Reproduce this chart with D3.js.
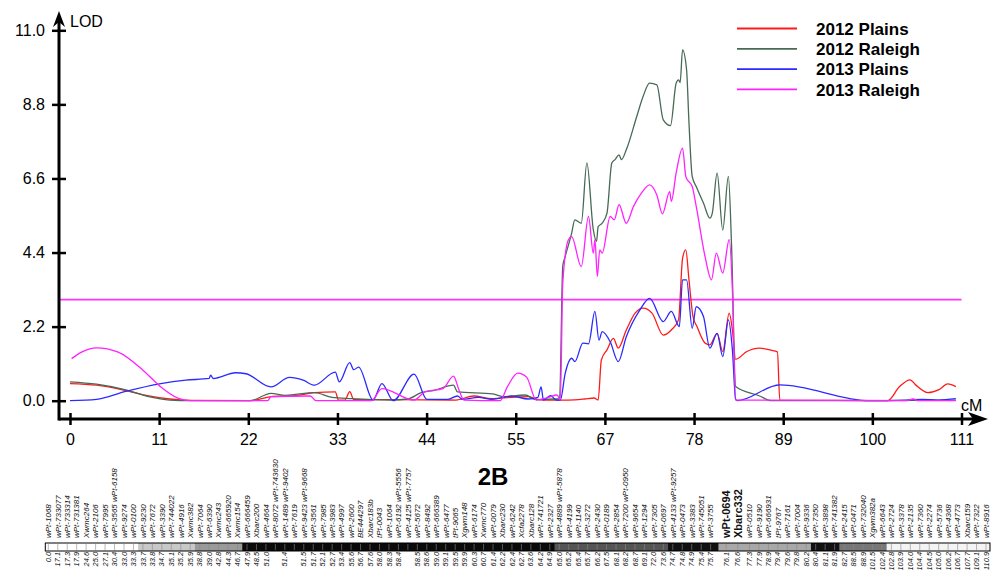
<!DOCTYPE html>
<html>
<head>
<meta charset="utf-8">
<script src="https://cdn.jsdelivr.net/npm/d3@7"></script>
<style>
  html, body { margin: 0; padding: 0; background: #fff; }
  svg { display: block; font-family: "Liberation Sans", Arial, sans-serif; }
  .tick-label { font-size: 16px; fill: #000; }
  .legend text { font-size: 17px; font-weight: bold; }
  .marker { font-size: 8px; font-style: italic; fill: #111; }
  .marker.qtl { font-size: 11px; font-weight: bold; font-style: normal; }
  .pos { font-size: 7.4px; font-style: italic; fill: #111; }
</style>
</head>
<body>
<div id="chart"></div>
<script>
// LOD profiles along chromosome 2B as [cM, LOD]
var plains2012 = [[0,0.51],[3.3,0.46],[6.8,0.31],[9.8,0.14],[12.4,0.05],[15,0.01],[22.4,0],[25,0.12],[28.3,0.16],[30.4,0.24],[33,0.26],[33.4,0.02],[34.2,0.02],[34.8,0.27],[35.3,0.03],[40,0.03],[48,0.02],[50.2,0.14],[52.5,0.06],[55,0.1],[57,0.12],[58,0.05],[59,0.02],[62,0.02],[64,0.05],[65.2,0.08],[65.7,0.02],[66.1,1.21],[66.8,1.51],[67.6,1.85],[68.2,1.56],[69.2,2.1],[70.3,2.6],[71.3,2.75],[72.4,2.6],[73.8,1.95],[74.8,2.1],[75.7,2.4],[76.2,4.23],[76.6,4.48],[77.0,3.59],[77.5,2.5],[78.0,2.2],[79.0,1.71],[79.6,1.66],[80.5,2.0],[81.2,1.46],[82.0,2.6],[82.4,2.1],[82.8,1.23],[84.2,1.46],[85.8,1.56],[87.2,1.5],[88.0,1.45],[88.3,0.02],[101.7,0],[103.2,0.42],[104.5,0.62],[105.2,0.47],[106.7,0.24],[108.1,0.33],[109.2,0.5],[110.2,0.42]];
var raleigh2012 = [[0,0.56],[3.3,0.49],[6.8,0.33],[9.8,0.12],[12.4,0.02],[15,0],[22.4,0],[25,0.22],[26.8,0.16],[30.4,0.24],[32.6,0.1],[35,0.06],[40,0.02],[42,0.05],[43.7,0.24],[45.3,0.31],[47.7,0.46],[48.2,0.26],[52.6,0.2],[54,0.12],[56.6,0.17],[58,0.03],[60.2,0.05],[60.9,0.05],[61.3,4.0],[61.6,4.28],[62.4,4.97],[62.8,5.37],[63.6,5.27],[64.3,7.06],[65.1,5.07],[65.5,4.73],[65.7,5.17],[66.2,5.27],[66.8,5.57],[67.4,7.06],[67.8,7.16],[68.3,7.3],[68.6,7.16],[69.2,7.45],[70.5,8.44],[71.3,9.04],[72.1,9.43],[73.0,9.38],[73.8,8.34],[74.7,8.17],[75.4,9.43],[75.7,9.53],[75.9,9.45],[76.2,10.42],[76.7,9.83],[77.0,8.25],[77.4,6.66],[77.9,6.36],[78.8,5.87],[79.6,5.42],[79.9,5.57],[80.5,6.76],[81.2,5.07],[81.9,6.66],[82.3,4.58],[82.8,0.42],[85.8,0.14],[87.2,0],[100,0],[110.2,0.02]];
var plains2013 = [[0,0],[3.3,0.04],[6.8,0.27],[11.3,0.51],[14.4,0.61],[17.3,0.66],[17.5,0.76],[17.8,0.66],[20.6,0.83],[21.9,0.8],[25,0.41],[27.3,0.69],[29,0.61],[30.4,0.46],[33,0.85],[33.5,0.56],[34.8,1.13],[35.3,0.92],[35.9,1.0],[37.7,0.02],[38.8,0.51],[40.2,0],[42.8,0.79],[44.4,0.04],[47,0.04],[48.2,0.14],[48.8,0.04],[50.8,0.1],[52.5,0.04],[54.9,0.14],[57,0.05],[58.2,0.1],[58.6,0.41],[58.9,0.02],[59.8,0.15],[60.5,0.02],[61.0,0.02],[61.6,0.81],[62.4,1.26],[62.8,1.16],[63.8,1.71],[64.5,1.69],[65.3,2.65],[65.8,1.8],[66.2,2.05],[67.2,1.75],[68.2,1.16],[69.2,1.9],[70.9,2.7],[72.1,3.04],[73.8,2.35],[74.8,2.65],[75.8,2.2],[76.2,3.59],[76.7,3.59],[77.4,2.15],[77.9,2.79],[78.8,2.5],[79.6,1.56],[80.5,2.0],[81.2,1.31],[81.9,2.4],[82.4,1.51],[82.8,0.05],[83.0,0],[88.3,0.47],[99.5,0],[104,0.02],[106,0.04],[108,0.02],[110.2,0.06]];
var raleigh2013 = [[0.2,1.25],[1.5,1.45],[3.3,1.57],[6,1.44],[9.1,0.9],[11.3,0.41],[13.5,0.07],[15,0],[24.6,0],[25,0.12],[29.9,0.14],[30.6,0],[37.5,0],[38.8,0.36],[42.8,0.02],[44.2,0.27],[46.4,0.36],[47.7,0.73],[48.4,0.31],[49,0.02],[53.5,0],[54.4,0.41],[55.7,0.82],[56.8,0.7],[58,0.02],[59.5,0.1],[60.6,0.17],[61.0,0.02],[61.3,3.5],[62.0,4.78],[62.4,4.87],[63.6,3.98],[64.5,5.47],[65.1,4.38],[65.3,4.78],[65.6,3.69],[65.9,4.48],[66.2,4.38],[67.2,5.47],[67.7,5.37],[68.3,5.82],[69.2,5.27],[70.1,5.77],[71.1,6.17],[72.1,6.41],[73.0,6.11],[73.7,5.55],[74.6,6.21],[74.8,5.92],[75.4,6.76],[76.2,7.5],[76.6,6.66],[76.8,6.56],[77.4,6.36],[77.9,5.77],[79.0,4.28],[79.8,3.59],[80.4,4.38],[81.2,3.79],[82.0,4.78],[82.4,3.29],[82.8,0.02],[104,0],[104.9,0.05],[105.5,0],[110.2,0]];

var seriesNames = ["2012 Plains", "2012 Raleigh", "2013 Plains", "2013 Raleigh"];
var seriesColors = ["#ff1a1a", "#476a56", "#2a2aff", "#ff22ff"];
var threshold = 3.0;

var chromLength = 110.9;
var yTicks = [0, 2.2, 4.4, 6.6, 8.8, 11.0];
var chromName = "2B";

// linkage map: marker names (column order) and their positions in cM
var markerNames = ["wPt-1068","wPt-733077","wPt-733314","wPt-731381","Xwmc264","wPt-2106","wPt-7995","wPt-3565 wPt-6158","wPt-9274","wPt-0100","wPt-9230","wPt-7672","wPt-3390","wPt-744022","wPt-4916","Xwmc382","wPt-7064","wPt-6390","Xwmc243","wPt-665920","Xwmc154","wPt-666459","Xbarc200","wPt-4664","wPt-8072 wPt-743630","wPt-1489 wPt-9402","wPt-7619","wPt-9423 wPt-9668","wPt-3561","wPt-7985","wPt-3983","wPt-4997","wPt-2600","BE444297","Xbarc183b","tPt-0043","wPt-1064","wPt-6192 wPt-5556","wPt-4125 wPt-7757","wPt-5672","wPt-8492","wPt-666389","wPt-6477","tPt-9065","Xgwm148","wPt-6174","Xwmc770","wPt-0079","Xbarc230","wPt-6242","Xcfa2278","Xbarc128","wPt-741721","wPt-2327","wPt-4889 wPt-5878","wPt-4199","wPt-1140","wPt-3272","wPt-2430","wPt-0189","wPt-2854","wPt-7200 wPt-0950","wPt-9654","wPt-1294","wPt-7305","wPt-0697","wPt-4133 wPt-9257","wPt-0473","wPt-3383","wPt-745051","wPt-3755","wPt-0694","Xbarc332","wPt-0510","wPt-9190","wPt-666931","tPt-9767","wPt-7161","wPt-7004","wPt-9336","wPt-7350","wPt-3898","wPt-741382","wPt-2415","wPt-0471","wPt-732040","Xgwm382a","wPt-6643","wPt-2724","wPt-3378","wPt-2135","wPt-7360","wPt-2274","wPt-5736","wPt-4368","wPt-4773","Xbarc159","wPt-7322","wPt-8916"];
var markerPos = ["0.0","17.1","17.3","17.9","24.6","25.0","27.1","30.4","33.0","33.3","33.7","33.8","34.7","35.1","35.2","35.9","38.8","39.0","42.8","44.3","46.7","47.9","48.5","51.0","","51.4","","51.5","51.7","52.1","52.7","53.4","55.6","56.7","57.6","58.0","58.3","58.4","","58.5","58.6","59.0","59.1","59.5","59.9","60.3","60.7","61.4","62.2","62.4","62.7","63.6","64.2","64.9","65.0","65.2","65.4","65.7","66.2","67.5","68.1","68.2","68.7","69.1","72.0","73.6","74.7","74.8","74.9","75.4","75.7","76.1","76.6","77.3","77.9","78.9","79.4","79.6","79.8","80.2","80.4","81.1","81.9","82.7","88.5","88.9","101.5","102.4","102.8","103.9","104.0","104.4","104.5","105.0","106.2","106.7","107.7","109.1","110.9"];
var qtlMarkers = ["wPt-0694", "Xbarc332"];

// shading of the drawn chromosome, by marker column
var barShades = [[0, 10, "#ffffff"], [10, 16, "#c8c8c8"], [16, 21, "#9a9a9a"], [21, 54, "#0a0a0a"], [54, 66, "#555555"], [66, 71, "#111111"], [71, 80, "#a8a8a8"], [80, 83, "#111111"], [83, 88, "#777777"], [88, 98, "#f4f4f4"]];

var W = 1001, H = 570;
var svg = d3.select("#chart").append("svg")
	.attr("width", W)
	.attr("height", H);

var x = d3.scaleLinear().domain([0, chromLength]).range([70, 961.5]);
var y = d3.scaleLinear().domain([0, 11]).range([400.7, 30.3]);
var axisX = 59, axisY = 419;

// threshold
svg.append("line")
	.attr("x1", axisX).attr("x2", x(chromLength))
	.attr("y1", y(threshold)).attr("y2", y(threshold))
	.attr("stroke", "#ff33ff")
	.attr("stroke-width", 1.8);

// LOD curves
var line = d3.line()
	.x(function(d) { return x(d[0]); })
	.y(function(d) { return y(d[1]); })
	.curve(d3.curveMonotoneX);
var allSeries = [plains2012, raleigh2012, plains2013, raleigh2013];
svg.append("g")
	.selectAll("path")
	.data(allSeries)
	.enter().append("path")
		.attr("d", line)
		.attr("fill", "none")
		.attr("stroke", function(d, i) { return seriesColors[i]; })
		.attr("stroke-width", 1.3)
		.attr("stroke-linejoin", "round");

// axes
var xAxis = d3.axisBottom(x)
	.tickValues(d3.range(11).map(function(i) { return i * chromLength / 10; }))
	.tickFormat(d3.format(".0f"))
	.tickSize(6);
var gx = svg.append("g")
	.attr("transform", "translate(0," + axisY + ")")
	.call(xAxis);
gx.select(".domain").remove();
gx.selectAll(".tick line").attr("y1", -6).attr("y2", 6).attr("stroke", "#000").attr("stroke-width", 2.5);
gx.selectAll(".tick text").attr("class", "tick-label").attr("y", 26).attr("dy", null)
	.style("font-size", "16px").style("font-family", "Liberation Sans, Arial, sans-serif");

var yAxis = d3.axisLeft(y)
	.tickValues(yTicks)
	.tickFormat(d3.format(".1f"))
	.tickSize(7);
var gy = svg.append("g")
	.attr("transform", "translate(" + axisX + ",0)")
	.call(yAxis);
gy.select(".domain").remove();
gy.selectAll(".tick line").attr("x1", 7).attr("x2", -7).attr("stroke", "#000").attr("stroke-width", 2.5);
gy.selectAll(".tick text").attr("x", -14)
	.style("font-size", "16px").style("font-family", "Liberation Sans, Arial, sans-serif");

svg.append("line")
	.attr("x1", axisX).attr("x2", 978)
	.attr("y1", axisY).attr("y2", axisY)
	.attr("stroke", "#000").attr("stroke-width", 3);
svg.append("line")
	.attr("x1", axisX).attr("x2", axisX)
	.attr("y1", axisY + 1.5).attr("y2", 20)
	.attr("stroke", "#000").attr("stroke-width", 3);
svg.append("path")
	.attr("d", "M988," + axisY + "L968," + (axisY - 7) + "L973," + axisY + "L968," + (axisY + 7) + "Z")
	.attr("fill", "#000");
svg.append("path")
	.attr("d", "M" + axisX + ",11L" + (axisX - 6) + ",27L" + axisX + ",22L" + (axisX + 6) + ",27Z")
	.attr("fill", "#000");

svg.append("text").attr("x", 70).attr("y", 27).style("font-size", "16px").text("LOD");
svg.append("text").attr("x", 961).attr("y", 411).style("font-size", "16px").text("cM");

// legend
var legend = svg.append("g").attr("class", "legend");
seriesNames.forEach(function(name, i) {
	var ly = 28.5 + i * 20.3;
	legend.append("line")
		.attr("x1", 737).attr("x2", 797)
		.attr("y1", ly).attr("y2", ly)
		.attr("stroke", seriesColors[i])
		.attr("stroke-width", 1.8);
	legend.append("text")
		.attr("x", 816).attr("y", ly)
		.attr("dy", "0.36em")
		.text(name);
});

// linkage map below the plot
svg.append("text")
	.attr("x", 493).attr("y", 485)
	.attr("text-anchor", "middle")
	.style("font-size", "24px").style("font-weight", "bold")
	.text(chromName);

var slots = [0];
markerNames.forEach(function(n, i) {
	if (i === 0) return;
	var cur = qtlMarkers.indexOf(n) >= 0, prev = qtlMarkers.indexOf(markerNames[i - 1]) >= 0;
	var gap = cur && !prev ? 1.64 : (cur || prev ? 1.23 : 1);
	slots.push(slots[i - 1] + gap);
});
var col = d3.scaleLinear().domain([0, slots[slots.length - 1]]).range([48.3, 986]);
function colX(i) { return col(slots[i]); }

var barTop = 543, barH = 8;
var bar = svg.append("g");
barShades.forEach(function(s) {
	var x0 = s[0] === 0 ? colX(0) - 3 : (colX(s[0]) + colX(s[0] - 1)) / 2;
	var x1 = s[1] === markerNames.length - 1 ? colX(s[1]) + 4 : (colX(s[1]) + colX(s[1] + 1)) / 2;
	bar.append("rect")
		.attr("x", x0).attr("y", barTop)
		.attr("width", x1 - x0).attr("height", barH)
		.attr("fill", s[2]);
});
bar.selectAll(".mtick")
	.data(markerNames)
	.enter().append("line")
		.attr("x1", function(d, i) { return colX(i); })
		.attr("x2", function(d, i) { return colX(i); })
		.attr("y1", barTop + 1).attr("y2", barTop + barH - 1)
		.attr("stroke", "#888").attr("stroke-width", 0.6);
bar.append("rect")
	.attr("x", colX(0) - 3).attr("y", barTop)
	.attr("width", colX(markerNames.length - 1) - colX(0) + 7).attr("height", barH)
	.attr("fill", "none").attr("stroke", "#000").attr("stroke-width", 1);

svg.append("g")
	.selectAll("text")
	.data(markerNames)
	.enter().append("text")
		.attr("class", function(d) { return qtlMarkers.indexOf(d) >= 0 ? "marker qtl" : "marker"; })
		.attr("transform", function(d, i) { return "translate(" + colX(i) + ",538) rotate(-90)"; })
		.attr("dy", "0.35em")
		.text(function(d) { return d; });

svg.append("g")
	.selectAll("text")
	.data(markerPos)
	.enter().append("text")
		.attr("class", "pos")
		.attr("text-anchor", "end")
		.attr("transform", function(d, i) { return "translate(" + colX(i) + ",552) rotate(-90)"; })
		.attr("dy", "0.35em")
		.text(function(d) { return d; });
</script>
</body>
</html>
